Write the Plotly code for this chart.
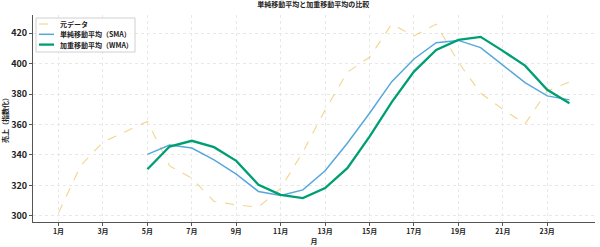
import plotly.graph_objects as go

months = list(range(1, 25))
raw = [302, 333, 348.5, 355, 362, 332.8, 324.7, 309.4, 307.2, 305.7, 318, 342,
       369.6, 394.4, 404.2, 426.1, 418.2, 426, 401, 380.6, 370, 360.4, 382, 388]
sma_months = list(range(5, 25))
sma = [340.4, 346.5, 344.5, 336.8, 327.4, 316, 313.3, 317, 329.6, 347.7, 367.4,
       388.2, 403.1, 413.8, 415.3, 410.6, 399, 387.6, 378.8, 376.2]
wma = [330.6, 345.5, 349.3, 345.1, 336.1, 320.4, 313.8, 311.6, 318.2, 331.3, 352,
       374.7, 394.8, 409, 415.6, 417.6, 408.4, 398.7, 382.8, 374]
tick_vals = list(range(1, 25, 2))
tick_text = [f"{m}月" for m in tick_vals]
series_names = ["元データ", "単純移動平均（SMA）", "加重移動平均（WMA）"]

FONT = "Noto Sans CJK JP"
styles = [dict(color="rgba(230,159,0,0.45)", width=1.1, dash="dash"),
          dict(color="#56a8dc", width=1.5),
          dict(color="#009e73", width=2.3)]

fig = go.Figure()
fig.add_trace(go.Scatter(x=months, y=raw, mode="lines", name=series_names[0], line=styles[0]))
fig.add_trace(go.Scatter(x=sma_months, y=sma, mode="lines", name=series_names[1], line=styles[1]))
fig.add_trace(go.Scatter(x=sma_months, y=wma, mode="lines", name=series_names[2], line=styles[2]))

# plot area geometry (pixels) for placing a compact legend
L, T, W, H = 33, 15, 562, 207
px = lambda p: (p - L) / W
py = lambda p: 1 - (p - T) / H

shapes = [dict(type="rect", xref="paper", yref="paper", x0=px(36), x1=px(135),
               y0=py(52), y1=py(18), line=dict(color="#d0d0d0", width=1),
               fillcolor="rgba(255,255,255,0.85)", layer="above")]
annotations = []
for i, (nm, st) in enumerate(zip(series_names, styles)):
    yy = 24 + i * 10.3
    shapes.append(dict(type="line", xref="paper", yref="paper", x0=px(39), x1=px(54),
                       y0=py(yy), y1=py(yy), line=st, layer="above"))
    annotations.append(dict(text=nm, xref="paper", yref="paper", x=px(58), y=py(yy),
                            xanchor="left", yanchor="middle", showarrow=False,
                            font=dict(size=7, family=FONT, weight="bold", color="#222")))

fig.update_layout(
    width=600, height=247,
    margin=dict(l=L, r=5, t=T, b=25),
    plot_bgcolor="white", paper_bgcolor="white",
    font=dict(family=FONT, size=7, color="#222", weight="bold"),
    title=dict(text="単純移動平均と加重移動平均の比較", x=0.522, xanchor="center",
               y=0.99, yanchor="top", font=dict(size=7, family=FONT, weight="bold")),
    showlegend=False,
    shapes=shapes, annotations=annotations,
)
fig.update_xaxes(range=[-0.15, 25.15], tickvals=tick_vals, ticktext=tick_text,
                 showgrid=True, gridcolor="#e8e8e8", griddash="dot", gridwidth=1,
                 showline=True, linecolor="#555", linewidth=1,
                 ticks="outside", ticklen=3, tickcolor="#555",
                 tickfont=dict(size=7, family=FONT, weight="bold"),
                 title=dict(text="月", standoff=2, font=dict(size=7, family=FONT, weight="bold")),
                 zeroline=False)
fig.update_yaxes(range=[295.9, 432], tickvals=[300, 320, 340, 360, 380, 400, 420],
                 showgrid=True, gridcolor="#e8e8e8", griddash="dot", gridwidth=1,
                 showline=True, linecolor="#555", linewidth=1,
                 ticks="outside", ticklen=3, tickcolor="#555",
                 tickfont=dict(size=9, family=FONT, weight="bold"),
                 title=dict(text="売上（指数化）", standoff=2, font=dict(size=7, family=FONT, weight="bold")),
                 zeroline=False)

fig.write_html("out.html")
